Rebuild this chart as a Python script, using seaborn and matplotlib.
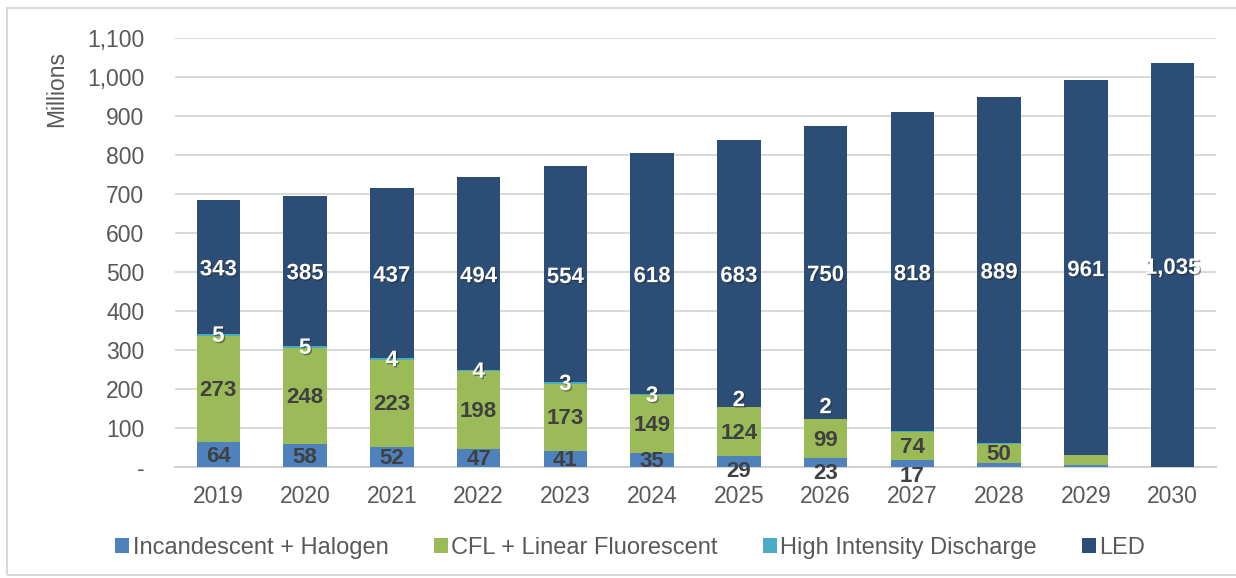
import matplotlib
matplotlib.use("Agg")
import matplotlib.pyplot as plt
import matplotlib.patheffects as pe
from matplotlib.patches import Patch, Rectangle
from matplotlib.ticker import FuncFormatter, MultipleLocator
import numpy as np
import pandas as pd
import seaborn as sns

# Lamp stock by technology (millions)
years = ["2019", "2020", "2021", "2022", "2023", "2024",
         "2025", "2026", "2027", "2028", "2029", "2030"]
incandescent = [64, 58, 52, 47, 41, 35, 29, 23, 17, 10, 4, 0]
cfl_linear = [273, 248, 223, 198, 173, 149, 124, 99, 74, 50, 27, 0]
hid = [5, 5, 4, 4, 3, 3, 2, 2, 1, 1, 0, 0]
led = [343, 385, 437, 494, 554, 618, 683, 750, 818, 889, 961, 1035]

series_names = ["Incandescent + Halogen", "CFL + Linear Fluorescent",
                "High Intensity Discharge", "LED"]
colors = ["#4F81BD", "#9BBB59", "#4BACC6", "#2C4D75"]

# which segments carry a value label
show_inc = [True] * 9 + [False] * 3
show_cfl = [True] * 10 + [False] * 2
show_hid = [True] * 8 + [False] * 4
show_led = [True] * 12

# vertical nudges (data units) that keep crowded labels apart
nudge_inc = {"2025": -22, "2026": -24, "2027": -29}
nudge_hid = {"2025": 20, "2026": 33}

sns.set_theme(style="white")
plt.rcParams["font.family"] = ["Liberation Sans", "DejaVu Sans"]

df = pd.DataFrame({"year": years, "inc": incandescent, "cfl": cfl_linear,
                   "hid": hid, "led": led})
df["c1"] = df["inc"]
df["c2"] = df["c1"] + df["cfl"]
df["c3"] = df["c2"] + df["hid"]
df["c4"] = df["c3"] + df["led"]

fig = plt.figure(figsize=(12.36, 5.78), dpi=100)
ax = fig.add_axes([175 / 1236, 1 - 467 / 578, 1041 / 1236, 429 / 578])

# stacked bars: draw cumulative heights from the top layer down
for col, color in zip(["c4", "c3", "c2", "c1"], colors[::-1]):
    sns.barplot(data=df, x="year", y=col, color=color, width=0.5,
                saturation=1, ax=ax, zorder=3, linewidth=0)

ax.set_xlim(-0.5, 11.5)
ax.set_ylim(0, 1100)
ax.yaxis.set_major_locator(MultipleLocator(100))
ax.yaxis.set_major_formatter(
    FuncFormatter(lambda v, p: "-" if v == 0 else f"{int(v):,}"))
ax.grid(axis="y", color="#D9D9D9", linewidth=1.4, zorder=0)
ax.set_axisbelow(True)
for s in ["top", "right", "left"]:
    ax.spines[s].set_visible(False)
ax.spines["bottom"].set_color("#D0D0D0")
ax.spines["bottom"].set_linewidth(1.4)
ax.tick_params(axis="both", length=0, labelsize=16.5, labelcolor="#595959")
ax.tick_params(axis="x", pad=13)
ax.tick_params(axis="y", pad=22)
ax.set_xlabel("")
ax.set_ylabel("Millions", fontsize=16.5, color="#595959")
ax.yaxis.set_label_coords(-0.103, 0.882)

shadow = [pe.SimplePatchShadow(offset=(1, -1), shadow_rgbFace="#202020",
                               alpha=0.45), pe.Normal()]
dark = "#404040"
lab_kw = dict(ha="center", va="center", fontsize=16, fontweight="bold",
              zorder=5)

for i, y in enumerate(years):
    inc, cfl, h, l = incandescent[i], cfl_linear[i], hid[i], led[i]
    if show_inc[i]:
        ax.text(i, inc / 2 + nudge_inc.get(y, 0) - 4, f"{inc:,}",
                color=dark, **lab_kw)
    if show_cfl[i]:
        ax.text(i, inc + cfl / 2 - 4, f"{cfl:,}", color=dark, **lab_kw)
    if show_hid[i]:
        ax.text(i, inc + cfl + h / 2 + nudge_hid.get(y, 0) - 4, f"{h:,}",
                color="white", path_effects=shadow, **lab_kw)
    if show_led[i]:
        ax.text(i, inc + cfl + h + l / 2 - 8, f"{l:,}", color="white",
                path_effects=shadow, **lab_kw)

handles = [Patch(facecolor=c, edgecolor="none") for c in colors]
fig.legend(handles, series_names, loc="center", ncol=4,
           bbox_to_anchor=(0.510, 0.052), frameon=False, fontsize=17,
           labelcolor="#595959", handlelength=0.6, handleheight=0.6,
           handletextpad=0.15, columnspacing=1.9)

# thin outer frame around the whole chart
fig.patches.append(Rectangle((7 / 1236, 3 / 578), 1 - 7 / 1236 + 0.01,
                             1 - 11 / 578, transform=fig.transFigure,
                             fill=False, edgecolor="#D9D9D9", linewidth=1.5))

fig.savefig("out.png", dpi=100)
